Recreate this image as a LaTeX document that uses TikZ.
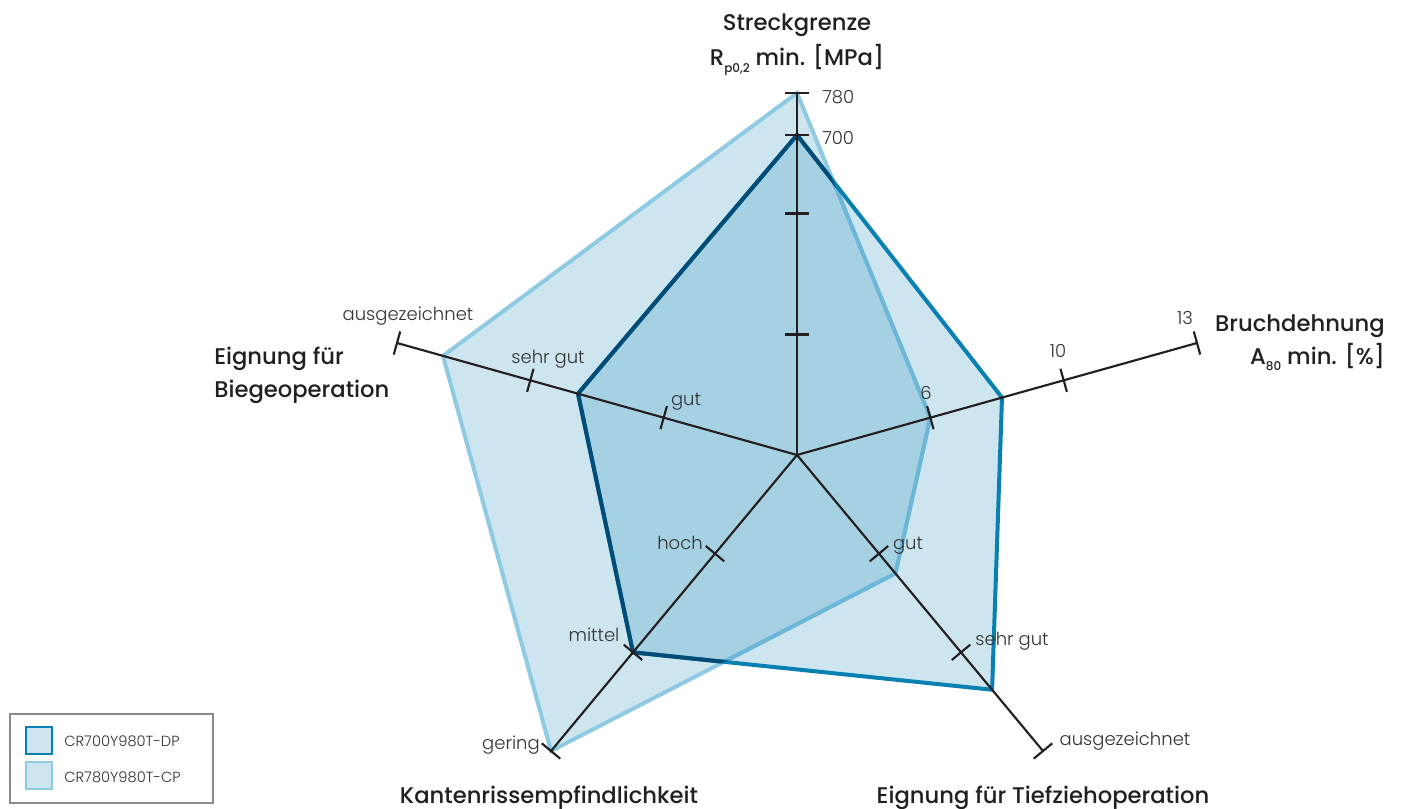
\documentclass[tikz,border=0pt]{standalone}
\usepackage{fontspec}
\setmainfont{Poppins}[BoldFont={Poppins Medium}]
\newfontfamily\lightf{Poppins Light}
\usetikzlibrary{calc}
\definecolor{axcol}{RGB}{35,31,32}
\definecolor{labcol}{RGB}{35,31,32}
\definecolor{smallcol}{RGB}{50,50,50}
\definecolor{fillcol}{RGB}{28,137,182}
\definecolor{darkout}{RGB}{8,128,178}
\definecolor{darkin}{RGB}{0,76,118}
\definecolor{lightout}{RGB}{143,202,227}
\definecolor{lightin}{RGB}{109,182,216}
\definecolor{legfill}{RGB}{205,229,239}
\definecolor{legborder}{RGB}{138,138,138}
\begin{document}
\begin{tikzpicture}[x=0.75pt,y=-0.75pt,
  axisline/.style={line width=1.6pt, draw=axcol},
  tickmark/.style={line width=1.6pt, draw=axcol},
  areafill/.style={fill=fillcol, fill opacity=0.22, draw=none},
  darkline/.style={line width=3pt, draw=#1},
  lightline/.style={line width=3pt, draw=#1},
  head/.style={font=\fontsize{17}{20}\selectfont\bfseries, text=labcol, inner sep=0pt},
  small/.style={font=\lightf\fontsize{13.5}{16}\selectfont, text=smallcol, inner sep=0pt},
  legtext/.style={font=\lightf\fontsize{11}{13}\selectfont, text=smallcol, inner sep=0pt, anchor=base west},
  swatch/.style={minimum width=20pt, minimum height=20pt, inner sep=0pt, fill=legfill, line width=1.6pt, draw=#1}
]
\useasboundingbox (0,0) rectangle (1402,809);

% axes
\coordinate (O) at (797,455);
\coordinate (T) at (797,93);
\coordinate (R) at (1197,343);
\coordinate (L) at (397,343);
\coordinate (BL) at (551,751);
\coordinate (BR) at (1043,751);

% dark polygon (CR700Y980T-DP)
\coordinate (dT) at ($(O)!0.884!(T)$);
\coordinate (dR) at ($(O)!0.5125!(R)$);
\coordinate (dBR) at ($(O)!0.793!(BR)$);
\coordinate (dBL) at ($(O)!0.6667!(BL)$);
\coordinate (dL) at ($(O)!0.5475!(L)$);
% light polygon (CR780Y980T-CP)
\coordinate (lT) at (T);
\coordinate (lR) at ($(O)!0.3333!(R)$);
\coordinate (lBR) at ($(O)!0.4!(BR)$);
\coordinate (lBL) at (BL);
\coordinate (lL) at ($(O)!0.885!(L)$);

% fills
\path[areafill] (lT) -- (lR) -- (lBR) -- (lBL) -- (lL) -- cycle;
\path[areafill] (dT) -- (dR) -- (dBR) -- (dBL) -- (dL) -- cycle;

% light outline
\draw[lightline=lightout] (lT) -- (lR) -- (lBR) -- (lBL) -- (lL) -- cycle;
\begin{scope}
  \clip (dT) -- (dR) -- (dBR) -- (dBL) -- (dL) -- cycle;
  \draw[lightline=lightin] (lT) -- (lR) -- (lBR) -- (lBL) -- (lL) -- cycle;
\end{scope}
% dark outline
\draw[darkline=darkout] (dT) -- (dR) -- (dBR) -- (dBL) -- (dL) -- cycle;
\begin{scope}
  \clip (lT) -- (lR) -- (lBR) -- (lBL) -- (lL) -- cycle;
  \draw[darkline=darkin] (dT) -- (dR) -- (dBR) -- (dBL) -- (dL) -- cycle;
\end{scope}

% axis lines
\foreach \e in {T,R,BR,BL,L} {\draw[axisline] (O) -- (\e);}
% ticks
\foreach \e/\f in {T/1,T/0.884,T/0.667,T/0.333,R/1,R/0.6667,R/0.3333,L/1,L/0.6667,L/0.3333,BL/1,BL/0.6667,BL/0.3333,BR/1,BR/0.6667,BR/0.3333} {
  \coordinate (p) at ($(O)!\f!(\e)$);
  \draw[tickmark] ($(p)!9pt!90:(O)$) -- ($(p)!9pt!-90:(O)$);
}

% axis titles
\node[head, anchor=base] (h1a) at (797,31) {Streckgrenze};
\node[head, anchor=base] (h1b) at (797,66) {R\raisebox{-0.55ex}{\fontsize{9}{9}\selectfont p0,2} min. [MPa]};
\node[head, anchor=base east] (h2a) at (1385,331) {Bruchdehnung};
\node[head, anchor=base east] (h2b) at (1385,364) {A\raisebox{-0.55ex}{\fontsize{9}{9}\selectfont 80} min. [\%]};
\node[head, anchor=base west] (h3a) at (214,364) {Eignung für};
\node[head, anchor=base west] (h3b) at (214,397) {Biegeoperation};
\node[head, anchor=base] (h4) at (549,803) {Kantenrissempfindlichkeit};
\node[head, anchor=base] (h5) at (1043,803) {Eignung für Tiefziehoperation};

% scale labels
\node[small, anchor=base west] (s780) at (822,104) {780};
\node[small, anchor=base west] (s700) at (822,145) {700};
\node[small, anchor=base] (s13) at (1185,324) {13};
\node[small, anchor=base] (s10) at (1058,357) {10};
\node[small, anchor=base] (s6) at (926,399) {6};
\node[small, anchor=base] (sb3) at (408,320) {ausgezeichnet};
\node[small, anchor=base] (sb2) at (548,363) {sehr gut};
\node[small, anchor=base] (sb1) at (686,405) {gut};
\node[small, anchor=base] (sk1) at (680,549) {hoch};
\node[small, anchor=base] (sk2) at (594,641) {mittel};
\node[small, anchor=base] (sk3) at (511,749) {gering};
\node[small, anchor=base] (st1) at (908,549) {gut};
\node[small, anchor=base] (st2) at (1012,645) {sehr gut};
\node[small, anchor=base] (st3) at (1125,745) {ausgezeichnet};

% legend
\draw[legborder, line width=0.9pt] (10,714) rectangle (213,803);
\node[swatch=darkout] (sw1) at (39,740.5) {};
\node[swatch=lightout] (sw2) at (39,775.5) {};
\node[legtext] (lg1) at (64,746) {CR700Y980T-DP};
\node[legtext] (lg2) at (64,782) {CR780Y980T-CP};
\end{tikzpicture}
\end{document}
